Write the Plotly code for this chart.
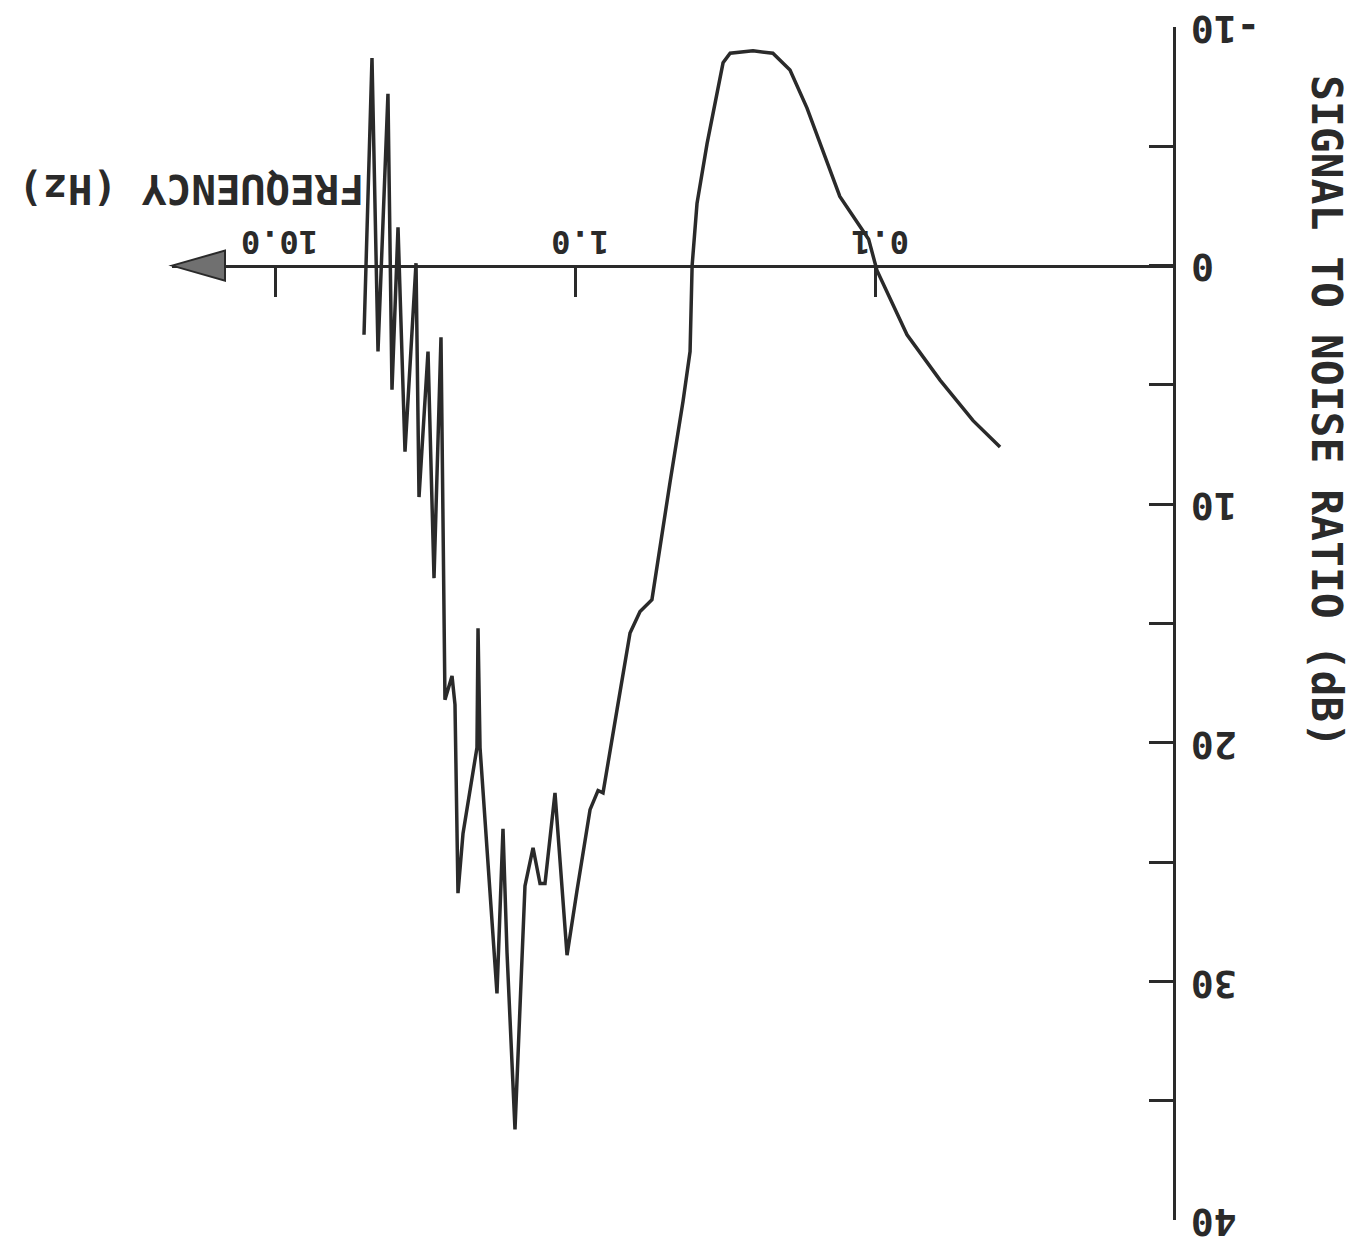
import math
import plotly.graph_objects as go

# ---- data ----
freq_hz = [0.0383, 0.0471, 0.0607, 0.0782, 0.0985, 0.105, 0.131, 0.1685, 0.192, 0.219,
           0.255, 0.304, 0.321, 0.336, 0.363, 0.392, 0.407, 0.4135, 0.4365, 0.4825,
           0.521, 0.554, 0.607, 0.6555, 0.724, 0.8065, 0.838, 0.891, 0.985, 1.063,
           1.166, 1.259, 1.308, 1.380, 1.468, 1.585, 1.685, 1.738, 1.820, 2.073,
           2.105, 2.122, 2.362, 2.455, 2.512, 2.570, 2.713, 2.797, 2.951, 3.090,
           3.311, 3.388, 3.687, 3.890, 4.074, 4.202, 4.536, 4.750, 5.050]
snr_db = [7.6, 6.5, 4.8, 2.9, 0.2, -1.1, -2.9, -6.6, -8.2, -8.9,
          -9.0, -8.9, -8.5, -7.2, -5.1, -2.6, 0.0, 3.6, 5.7, 9.1,
          11.9, 14.0, 14.5, 15.4, 18.6, 22.1, 22.0, 22.8, 26.2, 28.9,
          22.1, 25.9, 25.9, 24.4, 26.0, 36.2, 28.8, 23.6, 30.5, 20.2,
          15.2, 20.2, 23.8, 26.3, 18.4, 17.2, 18.2, 3.0, 13.1, 3.6,
          9.7, -0.1, 7.8, -1.6, 5.2, -7.2, 3.6, -8.7, 2.9]

x_tick_vals = [0.1, 1.0, 10.0]
x_tick_text = ["0.1", "1.0", "10.0"]
y_tick_vals = [-10, -5, 0, 5, 10, 15, 20, 25, 30, 35, 40]
y_tick_text = ["-10", "", "0", "", "10", "", "20", "", "30", "", "40"]
y_title = "SIGNAL TO NOISE RATIO (dB)"
x_title = "FREQUENCY (Hz)"

# ---- layout geometry ----
W, H = 1361, 1249
L, R, T, B = 172, 188, 27, 29
plot_w = W - L - R
plot_h = H - T - B
px_per_decade = 300.0
x_log_left = 1.0 + (275 - L) / px_per_decade      # 10 Hz sits at pixel 275
x_log_right = x_log_left - plot_w / px_per_decade
y_range = [40, -10]
px_per_db = plot_h / 50.0

ink = "#2a2a2a"
mono = "DejaVu Sans Mono, monospace"
tick_font = dict(family=mono, size=38, color=ink, weight="bold")
xtick_font = dict(family=mono, size=32, color=ink, weight="bold")

fig = go.Figure()
fig.add_trace(go.Scatter(
    x=freq_hz, y=snr_db, mode="lines",
    line=dict(color=ink, width=3.5, shape="linear"),
    showlegend=False, hoverinfo="skip",
))

fig.update_layout(
    width=W, height=H,
    margin=dict(l=L, r=R, t=T, b=B, pad=0),
    paper_bgcolor="white", plot_bgcolor="white",
    showlegend=False,
    xaxis=dict(
        type="log", range=[x_log_left, x_log_right],
        anchor="free", position=0.8, side="top",
        showline=True, linewidth=3, linecolor=ink,
        ticks="inside", ticklen=29, tickwidth=3, tickcolor=ink,
        tickmode="array", tickvals=x_tick_vals, ticktext=x_tick_text,
        showticklabels=False,
        showgrid=False, zeroline=False, automargin=False,
    ),
    yaxis=dict(
        range=y_range, side="right",
        showline=True, linewidth=3, linecolor=ink,
        ticks="inside", ticklen=24, tickwidth=3, tickcolor=ink,
        tickmode="array", tickvals=y_tick_vals, ticktext=y_tick_text,
        showticklabels=False,
        showgrid=False, zeroline=False, automargin=False,
    ),
)

# upside-down tick labels (the whole sheet is turned round in the reference)
char_w = 0.602 * tick_font["size"]
for v, t in zip(y_tick_vals, y_tick_text):
    if not t:
        continue
    fig.add_annotation(
        text=t, xref="paper", yref="y", x=1.0, y=v,
        xshift=18 + len(t) * char_w / 2.0, yshift=-2,
        textangle=180, showarrow=False, xanchor="center", yanchor="middle",
        font=tick_font,
    )
for v, t in zip(x_tick_vals, x_tick_text):
    fig.add_annotation(
        text=t, xref="x", yref="y", x=math.log10(v), y=0,
        xshift=5, yshift=23,
        textangle=180, showarrow=False, xanchor="center", yanchor="middle",
        font=xtick_font,
    )

# arrow head at the high-frequency end of the frequency axis
head_len = 53.0 / plot_w
head_half = 15.0 / px_per_db
fig.add_shape(
    type="path", xref="paper", yref="y",
    path=f"M 0,0 L {head_len},{-head_half} L {head_len},{head_half} Z",
    fillcolor="#707070", line=dict(color=ink, width=2),
)

fig.add_annotation(
    text=y_title, xref="paper", yref="paper",
    x=(1327 - L) / plot_w, y=(H - B - 411) / plot_h,
    textangle=90, showarrow=False, xanchor="center", yanchor="middle",
    font=dict(family=mono, size=43, color=ink, weight="bold"),
)
fig.add_annotation(
    text=x_title, xref="paper", yref="paper",
    x=(191 - L) / plot_w, y=(H - B - 189) / plot_h,
    textangle=180, showarrow=False, xanchor="center", yanchor="middle",
    font=dict(family=mono, size=41, color=ink, weight="bold"),
)

fig.write_html("out.html", config={"displayModeBar": False},
               post_script="document.body.style.margin='0';")
